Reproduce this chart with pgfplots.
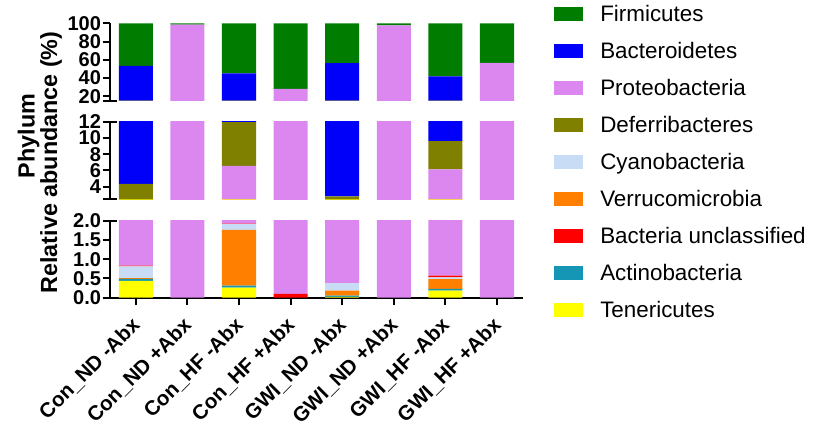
\documentclass[border=0pt]{standalone}
\usepackage{fontspec}
\setmainfont{Liberation Sans}
\usepackage{pgfplots}
\usepackage{pgfplotstable}
\pgfplotsset{compat=1.18}

\definecolor{fir}{RGB}{0,125,0}
\definecolor{bac}{RGB}{0,0,250}
\definecolor{pro}{RGB}{220,135,240}
\definecolor{def}{RGB}{128,128,0}
\definecolor{cya}{RGB}{200,220,245}
\definecolor{ver}{RGB}{255,128,0}
\definecolor{bu}{RGB}{255,0,0}
\definecolor{act}{RGB}{20,150,180}
\definecolor{ten}{RGB}{255,255,0}

\pgfplotstableread{
x ten act ver cya bu pro def bac fir
0 0.435 0.055 0.015 0.305 0.02 1.47 2.03 49.07 46.6
1 0 0 0 0 0 98.5 0 0 1.5
2 0.26 0.05 1.45 0.15 0.01 4.63 5.38 33.17 54.9
3 0 0 0 0 0.1 27.8 0 0 72.1
4 0.02 0.03 0.13 0.195 0 1.925 0.52 53.58 43.6
5 0 0 0 0 0 97.8 0 0 2.2
6 0.18 0.05 0.25 0.05 0.04 5.57 3.45 32.2 58.2
7 0 0 0 0 0 56.7 0 0 43.3
}\data

\newcommand{\stacks}{%
\addplot[fill=ten] table[x=x,y=ten]{\data};
\addplot[fill=act] table[x=x,y=act]{\data};
\addplot[fill=ver] table[x=x,y=ver]{\data};
\addplot[fill=cya] table[x=x,y=cya]{\data};
\addplot[fill=bu] table[x=x,y=bu]{\data};
\addplot[fill=pro] table[x=x,y=pro]{\data};
\addplot[fill=def] table[x=x,y=def]{\data};
\addplot[fill=bac] table[x=x,y=bac]{\data};
\addplot[fill=fir] table[x=x,y=fir]{\data};
}

\pgfplotsset{
  panel/.style={
    scale only axis, width=309.6pt, xmin=-0.5, xmax=7.5,
    ybar stacked, bar width=0.66,
    axis y line*=left,
    axis line style={-, line width=1.5pt, black},
    every axis plot/.append style={draw=none},
    tick style={line width=1.5pt, black},
    major tick length=5.6pt, tick align=outside,
    yticklabel style={font=\bfseries\fontsize{15}{15}\selectfont, inner sep=1pt},
    /pgf/number format/assume math mode=true,
  },
  capbottom/.style={after end axis/.append code={
    \draw[line width=1.5pt] ([xshift=-5.25pt]rel axis cs:0,0) -- ([xshift=5.25pt]rel axis cs:0,0);}},
  captop/.style={after end axis/.append code={
    \draw[line width=1.5pt] ([xshift=-5.25pt]rel axis cs:0,1) -- ([xshift=5.25pt]rel axis cs:0,1);}},
}

\begin{document}
\begin{tikzpicture}
\path[use as bounding box] (0,0) rectangle (609.75pt,321.75pt);

% top panel
\begin{axis}[panel, at={(82.5pt,246.2pt)}, height=58.05pt,
  ymin=15, ymax=100, ytick={20,40,60,80,100},
  axis x line=none, capbottom]
\stacks
\end{axis}

% middle panel
\begin{axis}[panel, at={(82.5pt,172.3pt)}, height=58.2pt,
  ymin=2.45, ymax=12, ytick={4,6,8,10,12},
  axis x line=none, capbottom, captop]
\stacks
\end{axis}

% bottom panel
\begin{axis}[panel, at={(82.5pt,98.5pt)}, height=57.75pt,
  ymin=0, ymax=2, ytick={0,0.5,1,1.5,2},
  yticklabel style={/pgf/number format/.cd, fixed, fixed zerofill, precision=1},
  axis x line*=bottom, xtick={0,...,7},
  xticklabels={Con\_ND -Abx, Con\_ND +Abx, Con\_HF -Abx, Con\_HF +Abx, GWI\_ND -Abx, GWI\_ND +Abx, GWI\_HF -Abx, GWI\_HF +Abx},
  xticklabel style={font=\bfseries\fontsize{15.4}{15.4}\selectfont, rotate=45, anchor=east, inner sep=1pt, xshift=-7.5pt, yshift=-9.5pt},
  captop]
\stacks
\end{axis}

% legend
\begin{axis}[at={(415.5pt,317.5pt)}, anchor=north west, hide axis, scale only axis,
  width=10pt, height=10pt, xmin=0, xmax=1, ymin=0, ymax=1,
  legend cell align=left,
  legend style={at={(0,1)}, anchor=north west, draw=none, fill=none, inner sep=0pt,
    font=\fontsize{16.8}{18}\selectfont, row sep=11.75pt, column sep=12.75pt,
    cells={anchor=base west},
    nodes={inner sep=0pt, text height=12pt, text depth=4pt}},
  legend image code/.code={\fill[#1] (0pt,0.65pt) rectangle (21.75pt,11.15pt);}]
\addlegendimage{fill=fir, draw=none}\addlegendentry{Firmicutes}
\addlegendimage{fill=bac, draw=none}\addlegendentry{Bacteroidetes}
\addlegendimage{fill=pro, draw=none}\addlegendentry{Proteobacteria}
\addlegendimage{fill=def, draw=none}\addlegendentry{Deferribacteres}
\addlegendimage{fill=cya, draw=none}\addlegendentry{Cyanobacteria}
\addlegendimage{fill=ver, draw=none}\addlegendentry{Verrucomicrobia}
\addlegendimage{fill=bu, draw=none}\addlegendentry{Bacteria unclassified}
\addlegendimage{fill=act, draw=none}\addlegendentry{Actinobacteria}
\addlegendimage{fill=ten, draw=none}\addlegendentry{Tenericutes}
\end{axis}

% y labels
\node[rotate=90, anchor=base, font=\bfseries\fontsize{17.5}{17.5}\selectfont] at (25.9pt,219.75pt) {Phylum};
\node[rotate=90, anchor=base, font=\bfseries\fontsize{17.5}{17.5}\selectfont] at (42.75pt,199.9pt) {Relative abundance (\%)};
\end{tikzpicture}
\end{document}
